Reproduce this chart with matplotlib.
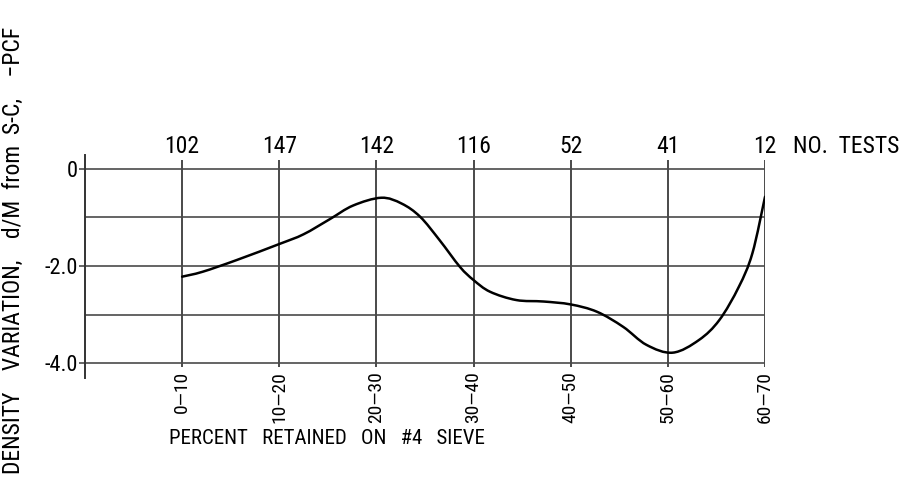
import matplotlib
matplotlib.use("Agg")
import matplotlib.pyplot as plt
import numpy as np
from matplotlib.path import Path
from matplotlib.patches import PathPatch
from matplotlib.transforms import blended_transform_factory
from matplotlib import font_manager

# Size-fraction categories (percent retained on #4 sieve)
categories = ["0\u201410", "10\u201420", "20\u201430", "30\u201440", "40\u201450", "50\u201460", "60\u201470"]
n_tests = ["102", "147", "142", "116", "52", "41", "12"]

# Density variation (category index, pcf)
curve_x = [0.0, 0.21, 0.56, 1.0, 1.25, 1.52, 1.76, 2.05, 2.26, 2.45, 2.65, 2.86,
           3.0, 3.17, 3.44, 3.72, 4.0, 4.27, 4.54, 4.78, 5.05, 5.32, 5.53, 5.73, 5.87, 6.0]
curve_y = [-2.22, -2.12, -1.88, -1.55, -1.35, -1.04, -0.76, -0.60, -0.72, -0.99, -1.47, -2.02,
           -2.29, -2.53, -2.70, -2.73, -2.79, -2.94, -3.25, -3.62, -3.78, -3.52, -3.11, -2.43, -1.74, -0.58]

y_ticks = [0, -2, -4]
y_ticklabels = ["0", "-2.0", "-4.0"]
grid_y = [0, -1, -2, -3, -4]

# Pick a narrow sans face if one is installed
fonts = font_manager.fontManager.ttflist
names = {f.name for f in fonts}
family, stretch = "DejaVu Sans", "normal"
for cand in ["Liberation Sans Narrow", "Roboto Condensed", "Open Sans Condensed",
             "Noto Sans Condensed", "DejaVu Sans Condensed", "Arial Narrow"]:
    if cand in names:
        family = cand
        break
else:
    for f in fonts:
        st = f.stretch
        if st in ("condensed", "semi-condensed", "extra-condensed") or (isinstance(st, int) and st < 500):
            family, stretch = f.name, "condensed"
            break
plt.rcParams["font.family"] = [family, "DejaVu Sans"]
plt.rcParams["font.stretch"] = stretch

fig = plt.figure(figsize=(9.03, 4.78), dpi=100)
ax = fig.add_axes([0.0941, 0.2092, 0.7531, 0.4665])
ax.set_xlim(-1, 6)
ax.set_ylim(-4.30, 0.277)

grid_color = "#4a4a4a"
ax.hlines(grid_y, -1, 6, color=grid_color, lw=1.2, zorder=1)
ax.vlines(range(len(categories)), -4.07, 0.17, color=grid_color, lw=1.4, zorder=1)


def smooth_path(xs, ys):
    """Catmull-Rom through the points, expressed as cubic Bezier segments."""
    pts = np.column_stack([xs, ys])
    verts = [pts[0]]
    codes = [Path.MOVETO]
    n = len(pts)
    for i in range(n - 1):
        p0 = pts[i - 1] if i > 0 else pts[i]
        p1 = pts[i]
        p2 = pts[i + 1]
        p3 = pts[i + 2] if i + 2 < n else pts[i + 1]
        c1 = p1 + (p2 - p0) / 6.0
        c2 = p2 - (p3 - p1) / 6.0
        verts += [c1, c2, p2]
        codes += [Path.CURVE4] * 3
    return Path(verts, codes)


ax.add_patch(PathPatch(smooth_path(curve_x, curve_y), fill=False,
                       edgecolor="black", lw=1.8, zorder=3, capstyle="round"))

for s in ["top", "right", "bottom"]:
    ax.spines[s].set_visible(False)
ax.spines["left"].set_color("#333333")
ax.spines["left"].set_linewidth(1.4)

ax.set_yticks(y_ticks)
ax.set_yticklabels(y_ticklabels, fontsize=16)
ax.tick_params(axis="y", length=4, width=1.2, color=grid_color, pad=1)

ax.set_xticks(range(len(categories)))
ax.set_xticklabels(categories, rotation=90, fontsize=14, va="top")
ax.tick_params(axis="x", length=0, pad=-5)

# Number of tests above each column
top_tr = blended_transform_factory(ax.transData, fig.transFigure)
label_y = 1 - 146 / 478
for i, t in enumerate(n_tests):
    ax.text(i, label_y, t, transform=top_tr, ha="center", va="center",
            fontsize=17, clip_on=False)
ax.text(6.29, label_y, "NO.  TESTS", transform=top_tr, ha="left", va="center",
        fontsize=17, clip_on=False)

fig.text(327 / 903, 1 - 438 / 478, "PERCENT   RETAINED   ON   #4   SIEVE",
         ha="center", va="center", fontsize=15)
fig.text(13 / 903, 1 - 250 / 478, "DENSITY    VARIATION,    d/M  from  S-C,    \u2212PCF",
         rotation=90, ha="center", va="center", fontsize=17)

fig.savefig("out.png", dpi=100)
